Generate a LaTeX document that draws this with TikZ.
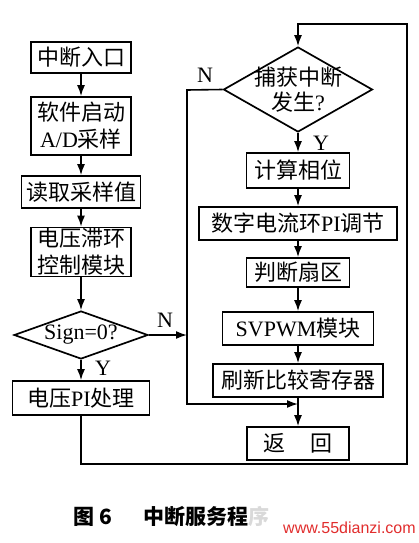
\documentclass[tikz,border=0pt]{standalone}
\usepackage{fontspec}
\setmainfont{Liberation Serif}
\newfontfamily\cjk{Noto Sans CJK SC}
\newfontfamily\wmfont{Liberation Sans}
\usetikzlibrary{arrows.meta, shapes.geometric}
\definecolor{wmred}{RGB}{225,45,45}
\newcommand\zh[1]{{\cjk #1}}

\begin{document}
\begin{tikzpicture}[x=1pt, y=-1pt,
    box/.style={draw, line width=1.7pt, inner sep=0pt, minimum height=33pt,
      font=\fontsize{22}{27}\selectfont, align=center},
    dec/.style={draw, diamond, aspect=1, inner sep=-14pt, line width=1.7pt,
      font=\fontsize{22}{25}\selectfont, align=center},
    flow/.style={line width=1.6pt, -{Latex[length=11pt, width=8pt]}},
    yn/.style={inner sep=0pt, font=\fontsize{22}{24}\selectfont}]
  \useasboundingbox (0,0) rectangle (418,543);
  % Left column: sampling and voltage loop
  \node[box, minimum width=100pt, minimum height=31pt] (entry) at (81,57.5) {\zh{中断入口}};
  \node[box, minimum width=100pt, minimum height=58pt] (adc) at (81,126) {\zh{软件启动}\\A/D\zh{采样}};
  \node[box, minimum width=119pt, minimum height=32pt] (readval) at (81,192) {\zh{读取采样值}};
  \node[box, minimum width=100pt, minimum height=49pt] (hyst) at (81,252) {\zh{电压滞环}\\\zh{控制模块}};
  \node[dec, minimum width=134pt, minimum height=48pt] (sign) at (81,335) {Sign=0?};
  \node[box, minimum width=137pt, minimum height=34pt] (volpi) at (81,398) {\zh{电压}PI\zh{处理}};
  % Right column: current loop
  \node[dec, minimum width=149pt, minimum height=85pt] (capture) at (298,89.5) {\zh{捕获中断}\\\zh{发生}?};
  \node[box, minimum width=103pt, minimum height=35pt] (phase) at (298,170.5) {\zh{计算相位}};
  \node[box, minimum width=198pt] (currpi) at (298,223.5) {\zh{数字电流环}PI\zh{调节}};
  \node[box, minimum width=103pt, minimum height=29pt] (sector) at (298,272.5) {\zh{判断扇区}};
  \node[box, minimum width=151pt] (svpwm) at (298,328.5) {SVPWM\zh{模块}};
  \node[box, minimum width=170pt] (refresh) at (298,380.5) {\zh{刷新比较寄存器}};
  \node[box, minimum width=102pt] (ret) at (298,443.5) {\zh{返\hspace{26pt}回}};
  % Corners of the N branch and of the return loop
  \coordinate (nturn) at (187,90);
  \coordinate (nbot) at (187,404);
  \coordinate (merge) at (298,404);
  \coordinate (loopbr) at (407,464);
  \coordinate (looptr) at (407,24);
  % Arrows
  \draw[flow] (entry) -- (adc);
  \draw[flow] (adc) -- (readval);
  \draw[flow] (readval) -- (hyst);
  \draw[flow] (hyst) -- (sign);
  \draw[flow] (sign) -- (volpi);
  \draw[flow] (sign.east) -- (sign.east -| nturn);
  \draw[flow] (volpi.south) |- (loopbr) -- (looptr) -| (capture.north);
  \draw[flow] (capture.west) -- (nturn) -- (nbot) -- (merge);
  \draw[flow] (capture) -- (phase);
  \draw[flow] (phase) -- (currpi);
  \draw[flow] (currpi) -- (sector);
  \draw[flow] (sector) -- (svpwm);
  \draw[flow] (svpwm) -- (refresh);
  \draw[flow] (refresh) -- (ret);
  % Y/N labels
  \node[yn] (signy) at (103,368) {Y};
  \node[yn] (signn) at (165,320) {N};
  \node[yn] (capn) at (205,75) {N};
  \node[yn] (capy) at (321,143) {Y};
  % Caption
  \node[anchor=west, inner sep=0pt, font=\cjk\bfseries\fontsize{21}{24}\selectfont] (fignum) at (73,517) {图 6};
  \node[anchor=west, inner sep=0pt, font=\cjk\bfseries\fontsize{21}{24}\selectfont] (caption) at (143,517) {中断服务程\textcolor{gray!30}{序}};
  \node[anchor=west, inner sep=0pt, text=wmred, font=\wmfont\fontsize{16}{18}\selectfont] (site) at (283,528) {www.55dianzi.com};
\end{tikzpicture}
\end{document}
